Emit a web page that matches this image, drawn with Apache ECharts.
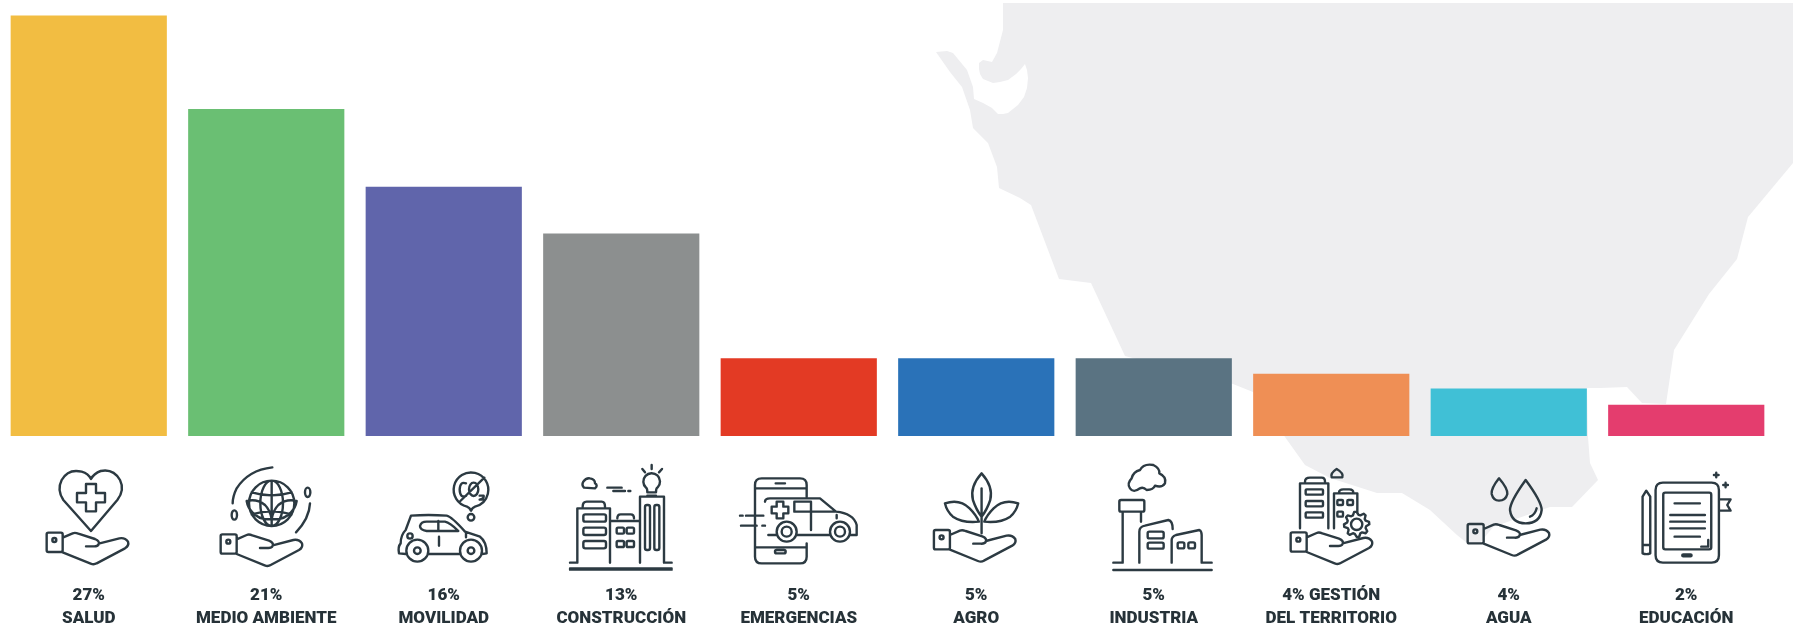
<!DOCTYPE html>
<html><head><meta charset="utf-8">
<style>html,body{margin:0;padding:0;background:#fff}#c{width:1793px;height:624px}</style>
<script src="https://cdn.jsdelivr.net/npm/echarts@6/dist/echarts.min.js"></script>
</head><body><div id="c"></div>
<script>
const tickLabels = ["27%\nSALUD","21%\nMEDIO AMBIENTE","16%\nMOVILIDAD","13%\nCONSTRUCCIÓN","5%\nEMERGENCIAS","5%\nAGRO","5%\nINDUSTRIA","4% GESTIÓN\nDEL TERRITORIO","4%\nAGUA","2%\nEDUCACIÓN"];
const barValues = [27,21,16,13,5,5,5,4,3.05,2];
const barColors = ["#f2bd42","#6abf73","#6065ab","#8c8f8f","#e33a24","#2a72b8","#5a7382","#ef8f55","#40c0d6","#e43d6e"];
const INK = "#2c3a42";
const mapOutline = [[1003,3],[1793,3],[1793,163],[1748,217],[1737,259],[1709,294],[1674,350],[1666,404],[1642,403],[1627,387],[1600,388],[1587,388],[1588,437],[1590,463],[1598,480],[1572,507],[1550,507],[1513,520],[1493,527],[1480,543],[1467,543],[1457,535],[1430,510],[1402,493],[1377,493],[1330,478],[1305,465],[1285,437],[1253,392],[1233,384],[1125,356],[1091,283],[1059,279],[1031,205],[1020,198],[999,188],[997,167],[988,143],[973,128],[970,110],[962,87],[950,72],[936,52],[947,51],[953,53],[967,70],[973,87],[974,99],[983,103],[992,108],[998,114],[1003,114],[1008,113],[1018,105],[1024,97],[1027,88],[1028,78],[1027,70],[1025,64],[1021,69],[1016,74],[1008,80],[1000,82],[993,83],[983,79],[980,74],[979,69],[979,63],[983,60],[992,62],[997,53],[1003,30]];

const rr=(x,y,w,h,r)=>`M${x+r} ${y}H${x+w-r}Q${x+w} ${y} ${x+w} ${y+r}V${y+h-r}Q${x+w} ${y+h} ${x+w-r} ${y+h}H${x+r}Q${x} ${y+h} ${x} ${y+h-r}V${y+r}Q${x} ${y} ${x+r} ${y}Z`;
const circ=(x,y,r)=>`M${x-r} ${y}A${r} ${r} 0 1 1 ${x+r} ${y}A${r} ${r} 0 1 1 ${x-r} ${y}Z`;
const ell=(x,y,a,b)=>`M${x-a} ${y}A${a} ${b} 0 1 1 ${x+a} ${y}A${a} ${b} 0 1 1 ${x-a} ${y}Z`;
function gear(cx,cy,ro,ri,n){let s='';for(let i=0;i<n*4;i++){const a=i/(n*4)*Math.PI*2-0.2,r=(i%4<2)?ro:ri;s+=(i?'L':'M')+(cx+r*Math.cos(a)).toFixed(1)+' '+(cy+r*Math.sin(a)).toFixed(1);}return s+'Z';}
const BOX="M0 0L0 0M1200 1200L1200 1200";
const HAND=rr(50,233,48,58,5)+circ(73,255,6)+"M98 248L128 235Q135 232 145 236L195 252Q210 258 206 268Q202 275 190 274L168 274M206 266L268 250Q285 247 294 260Q298 272 285 280L200 325Q192 330 182 326L98 292";

const icons=[
 {shift:-58.75,y0:455,hand:[0,0],d:"M183 228L100 135Q80 105 95 75Q115 40 155 50Q175 56 183 72Q192 55 212 48Q250 40 270 75Q285 105 262 135Z"+"M168 87h30v27h27v28h-27v27h-30v-27h-27v-28h27Z"},
 {shift:-56.25,y0:455,hand:[-18,5],d:circ(185,145,68)+"M185 77V213"+ell(185,145,34,68)+"M125 112Q185 130 245 112M125 178Q185 160 245 178"+"M185 192Q150 197 127 172Q113 157 110 138Q140 130 165 150Q180 165 185 192M185 192Q220 197 243 172Q257 157 260 138Q230 130 205 150Q190 165 185 192"+"M187 37Q115 45 80 100Q68 125 68 145M300 145Q298 190 258 232"+ell(73,180,8,14)+ell(293,112,8,14)},
 {shift:-58.75,y0:455,hand:null,d:"M246 155A52 52 0 1 1 270 155Q262 158 258 167Q254 158 246 155Z"+"M243 85Q225 78 224 104Q225 130 243 123"+ell(266,103,14,20)+"M298 68L226 138M284 122h12q2 8-12 12h12"+circ(258,187,10)+"M62 297L42 295Q38 275 47 265Q47 240 62 225L78 182Q130 178 185 182Q200 185 240 230L285 245Q305 260 305 295L292 297M130 297H222"+circ(97,287,33)+circ(97,287,10)+circ(258,287,33)+circ(258,287,10)+"M125 200H180Q195 203 220 228H125Q105 225 105 213Q108 200 125 200ZM160 198V228M162 245V272M243 235V247"+circ(75,243,8)},
 {shift:-61.25,y0:455,hand:null,d:"M30 340H335M30 344H335M30 323H52V160H150V323M68 155Q68 140 80 140H125Q135 140 135 155"+rr(70,178,68,22,6)+rr(70,218,68,22,6)+rr(70,258,68,22,6)+"M150 198H235M172 190Q172 178 182 178H212Q222 178 222 190"+rr(170,218,22,18,4)+rr(200,218,22,18,4)+rr(170,258,22,18,4)+rr(200,258,22,18,4)+"M240 323V125H312V323H335"+rr(255,150,15,135,6)+rr(283,150,15,135,6)+"M262 112Q262 100 258 98A25 25 0 1 1 292 98Q288 100 288 112ZM262 122H288M247 42L255 52M275 30V42M306 42L297 52M72 98Q64 90 70 80Q78 68 90 70Q105 72 105 85Q115 92 105 100ZM142 98H185M160 108H195M205 108H211"},
 {shift:-68.75,y0:455,hand:null,d:"M230 125V90Q230 70 210 70H95Q75 70 75 90V305Q75 325 95 325H210Q230 325 230 305V265M77 100H228M77 277H228M137 85H165"+rr(135,285,32,10,5)+"M105 140Q105 130 120 130H270L318 170Q370 175 380 210V240H360M195 170H318"+"M193 140H243V170H193ZM243 145V225M320 180V190"+circ(170,230,30)+circ(170,230,15)+circ(330,230,30)+circ(330,230,15)+"M115 240H140M200 240H300M140 140h20v15h15v20h-15v15h-20v-15h-15v-20h15ZM30 182H38M48 182H100M33 212H80M97 212H105"},
 {shift:-60,y0:455,hand:[3,-8],d:"M196 55Q160 95 170 135Q180 165 196 185Q212 165 222 135Q232 95 196 55ZM196 100V235M86 145Q130 130 160 160Q180 180 188 200Q140 205 110 185Q92 170 86 145ZM306 145Q262 130 232 160Q212 180 204 200Q252 205 282 185Q300 170 306 145Z"},
 {shift:-53.75,y0:455,hand:null,d:"M40 345H335M40 323H68V170M123 170V200"+rr(58,135,75,35,5)+"M118 323V230Q118 215 135 212L205 195Q218 198 218 222M215 323V255Q215 245 228 240L298 225Q305 228 305 240V323H335"+rr(143,230,48,20,5)+rr(143,263,48,18,5)+rr(233,262,20,18,5)+rr(265,262,20,18,5)+"M90 100Q80 85 95 70Q100 50 120 45Q130 25 160 30Q180 40 178 55Q200 65 195 85Q185 100 165 92Q160 105 140 105Q130 95 120 100Q100 115 90 100Z"},
 {shift:-71.25,y0:370,hand:[42,254],d:"M120 475V340H205V475M135 335Q135 323 150 323H185Q195 323 195 335"+rr(137,358,52,16,3)+rr(137,393,52,16,3)+rr(137,427,52,16,3)+"M222 475V370H292V430M237 368Q237 358 250 358H268Q280 358 280 368"+rr(232,390,17,15,3)+rr(262,390,17,15,3)+rr(232,425,17,15,3)+gear(290,463,38,29,8)+circ(290,463,17)+"M215 322Q210 310 230 297Q252 310 247 322Z"},
 {shift:-248.75,y0:370,hand:[573,229],d:"M717 325Q693 355 695 372Q700 392 717 392Q737 392 742 372Q743 355 717 325ZM797 330Q750 395 750 420Q755 460 797 460Q840 460 845 420Q845 395 797 330ZM810 440Q825 435 830 415"},
 {shift:-60,y0:455,hand:null,d:rr(88,83,190,240,22)+rr(111,113,144,170,6)+rr(168,298,28,6,3)+"M145 145H221M132 180H236M132 200H236M132 220H236M145 245H221M246 255V275H225M49 295V125L60 107L72 125V295Q60 300 49 295ZM49 270H72M278 133H313L303 150L313 167H278M270 53V67M263 60H277M298 83V97M291 90H305"}
];

const chart=echarts.init(document.getElementById('c'),null,{renderer:'canvas'});
chart.setOption({
 animation:false,
 backgroundColor:'#ffffff',
 graphic:[{type:'polygon',silent:true,z:-10,shape:{points:mapOutline},style:{fill:'#eeeef0'}}],
 grid:{left:0,right:18,top:0,bottom:188,containLabel:false,outerBoundsMode:'none'},
 xAxis:{type:'category',data:tickLabels,axisLine:{show:false},axisTick:{show:false},
  axisLabel:{interval:0,margin:148,fontFamily:'Roboto',fontWeight:900,fontSize:17,lineHeight:23,color:'#263238',align:'center'}},
 yAxis:{type:'value',min:0,max:28,show:false,splitLine:{show:false}},
 series:[
  {type:'bar',barCategoryGap:'12%',z:3,data:barValues.map((v,i)=>({value:v,itemStyle:{color:barColors[i]}}))},
  {type:'custom',z:4,clip:false,silent:true,data:tickLabels.map((t,i)=>[i,0]),
   renderItem:(p,api)=>{
    const ic=icons[api.value(0)];const pt=api.coord([api.value(0),0]);
    const x=pt[0]+ic.shift,y=ic.y0;
    const mk=(d,dx,dy)=>({type:'path',shape:{pathData:BOX+d,layout:'cover',x:x+dx/3,y:y+dy/3,width:400,height:400},style:{fill:'none',stroke:INK,lineWidth:2.4,lineJoin:'round',lineCap:'round'}});
    const ch=[mk(ic.d,0,0)];
    if(ic.hand)ch.push(mk(HAND,ic.hand[0],ic.hand[1]));
    return {type:'group',children:ch};
   }}
 ]
});
</script></body></html>
